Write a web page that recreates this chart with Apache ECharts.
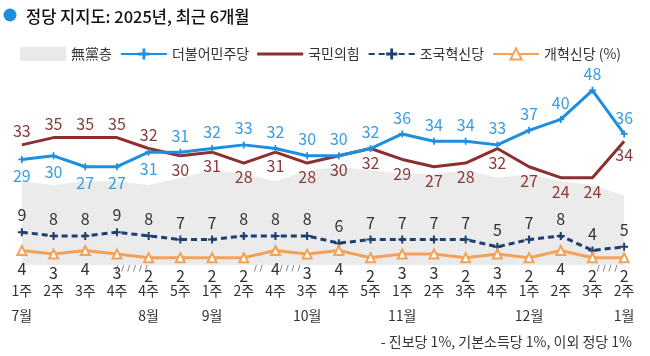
<!DOCTYPE html>
<html><head><meta charset="utf-8">
<script src="https://cdn.jsdelivr.net/npm/echarts@6/dist/echarts.min.js"></script>
<style>html,body{margin:0;padding:0;background:#fff}#c{width:650px;height:356px}</style>
</head><body><div id="c"></div>
<script>
const weeks = ['1주','2주','3주','4주','4주','5주','1주','2주','4주','3주','4주','5주','1주','2주','3주','4주','1주','2주','3주','2주'];
const months = ['7월','','','','8월','','9월','','','10월','','','11월','','','','12월','','','1월'];
const nonParty = [23,22,23,23,22,24,26,25,23,26,27,26,25,25,26,24,25,23,22,19];
const democratic = [29,30,27,27,31,31,32,33,32,30,30,32,36,34,34,33,37,40,48,36];
const ppp = [33,35,35,35,32,30,31,28,31,28,30,32,29,27,28,32,27,24,24,34];
const rebuilding = [9,8,8,9,8,7,7,8,8,8,6,7,7,7,7,5,7,8,4,5];
const reform = [4,3,4,3,2,2,2,2,4,3,4,2,3,3,2,3,2,4,2,2];
const breaks = [[3,4,'//////'],[7,8,'//'],[8,9,'////'],[18,19,'////']];
const names = ['無黨층','더불어민주당','국민의힘','조국혁신당','개혁신당 (%)'];

const FONT = '"Noto Sans CJK KR", sans-serif';
const plus = 'path://M3,0h2v3h3v2h-3v3h-2v-3h-3v-2h3z';
const lineIcon = 'path://M0,6h46v3h-46z';
const chart = echarts.init(document.getElementById('c'));
const cats = weeks.map((w,i)=>i);
chart.setOption({
  animation:false,
  textStyle:{fontFamily:FONT},
  title:{text:'정당 지지도: 2025년, 최근 6개월',left:21,top:3,textStyle:{fontFamily:FONT,fontSize:16.5,fontWeight:500,color:'#111'}},
  legend:{left:15,top:42,itemWidth:46,itemHeight:14,itemGap:8,
    textStyle:{fontFamily:FONT,fontSize:14,color:'#333'},
    data:[{name:names[0],icon:'rect'},names[1],{name:names[2],icon:lineIcon},names[3],names[4]]},
  grid:{left:6,right:10,top:83,bottom:91},
  xAxis:{type:'category',data:cats,boundaryGap:true,
    axisLine:{show:false},axisTick:{show:false},
    axisLabel:{margin:13,interval:0,formatter:(v,i)=>'{w|'+weeks[i]+'}\n{m|'+(months[i]||' ')+'}',
      rich:{w:{fontFamily:FONT,fontSize:14,color:'#333',lineHeight:25},m:{fontFamily:FONT,fontSize:14,color:'#333',lineHeight:25}}}},
  yAxis:{type:'value',min:0,max:50,show:false,splitLine:{show:false}},
  series:[
    {name:names[0],type:'line',data:nonParty,symbol:'none',lineStyle:{width:0},itemStyle:{color:'#e9e9e9'},areaStyle:{color:'#ebebeb',opacity:1},z:1},
    {name:names[1],type:'line',symbol:plus,symbolSize:7,
      data:democratic.map((v,i)=>({value:v,label:{position:v>=ppp[i]?'top':'bottom'}})),
      lineStyle:{width:3,color:'#1e8fe0'},itemStyle:{color:'#1e8fe0'},
      label:{show:true,distance:5,fontFamily:FONT,fontSize:16,color:'#3b9ddf'},z:4},
    {name:names[2],type:'line',symbol:'circle',symbolSize:0,
      data:ppp.map((v,i)=>({value:v,label:{position:v>democratic[i]?'top':'bottom'}})),
      lineStyle:{width:3,color:'#8b2f2f'},itemStyle:{color:'#8b2f2f'},
      label:{show:true,distance:6,fontFamily:FONT,fontSize:16,color:'#8a3b3b'},z:3},
    {name:names[3],type:'line',symbol:plus,symbolSize:8,data:rebuilding,
      lineStyle:{width:3,color:'#1f3f70',type:[6,4]},itemStyle:{color:'#1f3f70'},
      label:{show:true,position:'top',distance:5,fontFamily:FONT,fontSize:16,color:'#333'},z:3},
    {name:names[4],type:'line',symbol:'emptyTriangle',symbolSize:9,data:reform,
      lineStyle:{width:3,color:'#f4a25a'},itemStyle:{color:'#f4a25a',borderWidth:1.5},
      label:{show:true,position:'bottom',distance:5,fontFamily:FONT,fontSize:16,color:'#333'},z:3}
  ]
});
const g = [{type:'circle',shape:{cx:10,cy:15,r:6.5},style:{fill:'#1e8fe0'}},
  {type:'text',right:18,top:335,style:{text:'- 진보당 1%, 기본소득당 1%, 이외 정당 1%',font:'14px '+FONT,fill:'#333'}}];
breaks.forEach(b=>{
  const p1 = chart.convertToPixel({xAxisIndex:0,yAxisIndex:0},[b[0],0]);
  const p2 = chart.convertToPixel({xAxisIndex:0,yAxisIndex:0},[b[1],0]);
  g.push({type:'text',x:(p1[0]+p2[0])/2,y:p1[1]-2,style:{text:b[2],font:'15px '+FONT,fill:'#8a8a8a',align:'center',verticalAlign:'middle'}});
});
chart.setOption({graphic:g});
</script></body></html>
